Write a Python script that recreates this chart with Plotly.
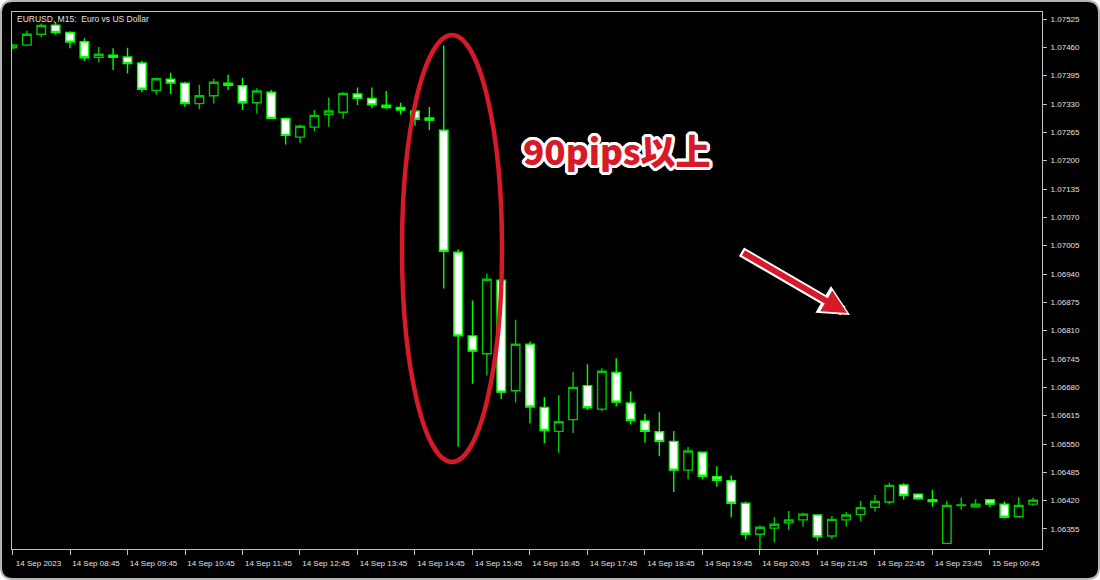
import plotly.graph_objects as go

# ---- data (EURUSD M15, 14 Sep 2023 07:45 -> 15 Sep 01:30) ----
opens = [1.07459, 1.07465, 1.07490, 1.07511, 1.07494, 1.07473, 1.07437, 1.07442, 1.07438, 1.07424,
         1.07361, 1.07387, 1.07378, 1.07331, 1.07349, 1.07378, 1.07372, 1.07333, 1.07357, 1.07297,
         1.07254, 1.07277, 1.07306, 1.07311, 1.07353, 1.07343, 1.07327, 1.07322, 1.07314, 1.07298,
         1.07270, 1.06990, 1.06798, 1.06757, 1.06926, 1.06672, 1.06779, 1.06634, 1.06579, 1.06606,
         1.06684, 1.06630, 1.06714, 1.06644, 1.06603, 1.06578, 1.06556, 1.06490, 1.06531, 1.06475,
         1.06466, 1.06414, 1.06343, 1.06357, 1.06369, 1.06376, 1.06387, 1.06339, 1.06376, 1.06388,
         1.06405, 1.06417, 1.06456, 1.06435, 1.06422, 1.06322, 1.06409, 1.06406, 1.06422, 1.06412,
         1.06383, 1.06412]
highs = [1.07468, 1.07498, 1.07515, 1.07518, 1.07497, 1.07481, 1.07461, 1.07458, 1.07459, 1.07429,
         1.07390, 1.07402, 1.07381, 1.07374, 1.07388, 1.07397, 1.07390, 1.07366, 1.07362, 1.07299,
         1.07283, 1.07316, 1.07345, 1.07357, 1.07368, 1.07368, 1.07360, 1.07333, 1.07316, 1.07323,
         1.07464, 1.06997, 1.06879, 1.06941, 1.06927, 1.06835, 1.06785, 1.06658, 1.06662, 1.06716,
         1.06733, 1.06724, 1.06747, 1.06671, 1.06619, 1.06623, 1.06580, 1.06543, 1.06532, 1.06499,
         1.06478, 1.06418, 1.06363, 1.06382, 1.06396, 1.06392, 1.06389, 1.06385, 1.06394, 1.06419,
         1.06433, 1.06461, 1.06460, 1.06436, 1.06445, 1.06420, 1.06427, 1.06423, 1.06424, 1.06418,
         1.06428, 1.06427]
lows = [1.07456, 1.07463, 1.07484, 1.07489, 1.07458, 1.07429, 1.07426, 1.07408, 1.07400, 1.07357,
        1.07351, 1.07353, 1.07324, 1.07318, 1.07331, 1.07362, 1.07316, 1.07308, 1.07296, 1.07237,
        1.07240, 1.07268, 1.07278, 1.07296, 1.07328, 1.07320, 1.07319, 1.07306, 1.07280, 1.07270,
        1.06907, 1.06544, 1.06688, 1.06707, 1.06653, 1.06645, 1.06597, 1.06552, 1.06530, 1.06575,
        1.06628, 1.06625, 1.06636, 1.06595, 1.06553, 1.06522, 1.06440, 1.06469, 1.06469, 1.06452,
        1.06382, 1.06331, 1.06309, 1.06324, 1.06353, 1.06360, 1.06328, 1.06332, 1.06360, 1.06372,
        1.06395, 1.06411, 1.06422, 1.06422, 1.06406, 1.06320, 1.06399, 1.06405, 1.06405, 1.06379,
        1.06382, 1.06408]
closes = [1.07465, 1.07490, 1.07510, 1.07494, 1.07472, 1.07436, 1.07444, 1.07437, 1.07423, 1.07364,
          1.07388, 1.07378, 1.07331, 1.07349, 1.07380, 1.07373, 1.07333, 1.07360, 1.07297, 1.07258,
          1.07279, 1.07304, 1.07314, 1.07354, 1.07343, 1.07328, 1.07322, 1.07316, 1.07295, 1.07293,
          1.06992, 1.06798, 1.06763, 1.06928, 1.06669, 1.06779, 1.06635, 1.06581, 1.06601, 1.06680,
          1.06633, 1.06717, 1.06646, 1.06604, 1.06579, 1.06556, 1.06490, 1.06534, 1.06476, 1.06467,
          1.06414, 1.06343, 1.06359, 1.06366, 1.06376, 1.06389, 1.06337, 1.06377, 1.06387, 1.06404,
          1.06418, 1.06455, 1.06432, 1.06424, 1.06418, 1.06409, 1.06410, 1.06412, 1.06412, 1.06382,
          1.06409, 1.06421]
bar_index = list(range(len(opens)))

time_tick_bars = [0, 4, 8, 12, 16, 20, 24, 28, 32, 36, 40, 44, 48, 52, 56, 60, 64, 68]
time_tick_labels = ["14 Sep 2023", "14 Sep 08:45", "14 Sep 09:45", "14 Sep 10:45", "14 Sep 11:45",
                    "14 Sep 12:45", "14 Sep 13:45", "14 Sep 14:45", "14 Sep 15:45", "14 Sep 16:45",
                    "14 Sep 17:45", "14 Sep 18:45", "14 Sep 19:45", "14 Sep 20:45", "14 Sep 21:45",
                    "14 Sep 22:45", "14 Sep 23:45", "15 Sep 00:45"]
price_ticks = [1.07525, 1.07460, 1.07395, 1.07330, 1.07265, 1.07200, 1.07135, 1.07070, 1.07005,
               1.06940, 1.06875, 1.06810, 1.06745, 1.06680, 1.06615, 1.06550, 1.06485, 1.06420, 1.06355]

W, H = 1100, 580
ML, MR, MT, MB = 12, 58, 12, 31
PW, PH = W - ML - MR, H - MT - MB


def pxx(p):
    return (p - ML) / PW


def pxy(p):
    return (H - MB - p) / PH


fig = go.Figure()
fig.add_trace(go.Candlestick(
    x=bar_index, open=opens, high=highs, low=lows, close=closes,
    increasing=dict(line=dict(color="#00C800", width=1.4), fillcolor="#000000"),
    decreasing=dict(line=dict(color="#00FF00", width=1.4), fillcolor="#FFFFFF"),
    whiskerwidth=0, showlegend=False, hoverinfo="skip",
))

# outer rounded frame
r = 12
x0, y0, x1, y1 = 1, 1, W - 1, H - 1
path = (f"M {pxx(x0 + r)},{pxy(y0)} L {pxx(x1 - r)},{pxy(y0)} Q {pxx(x1)},{pxy(y0)} {pxx(x1)},{pxy(y0 + r)} "
        f"L {pxx(x1)},{pxy(y1 - r)} Q {pxx(x1)},{pxy(y1)} {pxx(x1 - r)},{pxy(y1)} "
        f"L {pxx(x0 + r)},{pxy(y1)} Q {pxx(x0)},{pxy(y1)} {pxx(x0)},{pxy(y1 - r)} "
        f"L {pxx(x0)},{pxy(y0 + r)} Q {pxx(x0)},{pxy(y0)} {pxx(x0 + r)},{pxy(y0)} Z")
fig.add_shape(type="path", path=path, xref="paper", yref="paper",
              fillcolor="#000000", line=dict(color="#B4B4B4", width=2), layer="below")

# red ellipse around the drop
fig.add_shape(type="circle", xref="paper", yref="paper",
              x0=pxx(402), x1=pxx(502), y0=pxy(462), y1=pxy(35),
              line=dict(color="#D71A28", width=4.5), layer="above")

red = "#D71A28"
outline = ", ".join(f"{dx}px {dy}px 0 #FFFFFF" for dx, dy in
                    [(3, 0), (-3, 0), (0, 3), (0, -3), (2, 2), (-2, -2), (2, -2), (-2, 2),
                     (3, 1), (3, -1), (-3, 1), (-3, -1), (1, 3), (-1, 3), (1, -3), (-1, -3)])
fig.add_annotation(text="90pips以上", xref="paper", yref="paper", x=pxx(617), y=pxy(149),
                   showarrow=False, xanchor="center", yanchor="middle",
                   font=dict(family="Noto Sans CJK JP", size=35, color=red, weight=900, shadow=outline))

# arrow (white outline under red)
fig.add_annotation(text="", xref="paper", yref="paper", x=pxx(850), y=pxy(315),
                   axref="pixel", ayref="pixel", ax=-110, ay=-64,
                   showarrow=True, arrowhead=2, arrowsize=0.62, arrowwidth=10, arrowcolor="#FFFFFF")
fig.add_annotation(text="", xref="paper", yref="paper", x=pxx(847), y=pxy(313),
                   axref="pixel", ayref="pixel", ax=-105, ay=-61,
                   showarrow=True, arrowhead=2, arrowsize=0.8, arrowwidth=6, arrowcolor=red)

# chart title
fig.add_annotation(text="EURUSD, M15:  Euro vs US Dollar", xref="paper", yref="paper",
                   x=pxx(15), y=pxy(12), xanchor="left", yanchor="top", showarrow=False,
                   font=dict(family="Liberation Sans", size=8.5, color="#E0E0E0"))

axis_font = dict(family="Liberation Sans", size=8, color="#E0E0E0")
fig.update_layout(
    width=W, height=H,
    margin=dict(l=ML, r=MR, t=MT, b=MB, pad=0),
    paper_bgcolor="#FFFFFF", plot_bgcolor="rgba(0,0,0,0)",
    boxgap=0.15,
    xaxis=dict(range=[-0.035, 71.62], rangeslider=dict(visible=False), showgrid=False, zeroline=False,
               tickmode="array", tickvals=time_tick_bars, ticktext=time_tick_labels,
               ticks="outside", ticklen=5, tickcolor="#C0C0C0", tickwidth=1,
               showline=True, linecolor="#C0C0C0", linewidth=1, mirror=True,
               tickfont=axis_font, ticklabelshift=26, ticklabelstandoff=1),
    yaxis=dict(range=[1.063091, 1.075411], side="right", showgrid=False, zeroline=False,
               tickmode="array", tickvals=price_ticks, tickformat=".5f",
               ticks="outside", ticklen=4, tickcolor="#C0C0C0", tickwidth=1,
               showline=True, linecolor="#C0C0C0", linewidth=1, mirror=True,
               tickfont=axis_font, ticklabelstandoff=2),
)

fig.write_html("out.html", config={"displayModeBar": False},
               post_script="document.body.style.margin='0px';")
